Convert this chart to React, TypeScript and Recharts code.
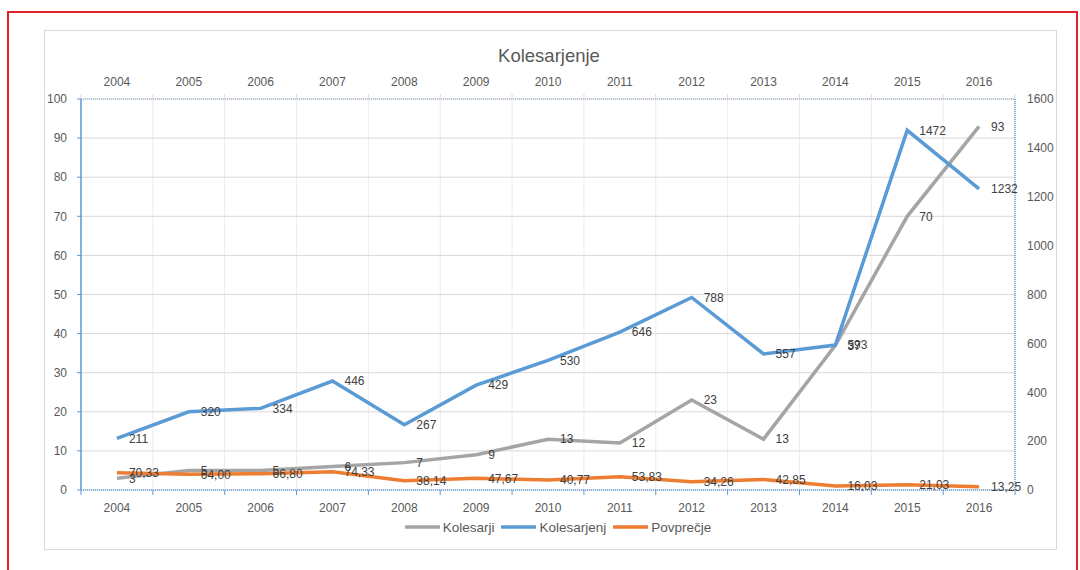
import React from "react";
import { LineChart, Line, XAxis, YAxis, CartesianGrid, LabelList } from "recharts";

const years = [2004, 2005, 2006, 2007, 2008, 2009, 2010, 2011, 2012, 2013, 2014, 2015, 2016];
const kolesarji = [3, 5, 5, 6, 7, 9, 13, 12, 23, 13, 37, 70, 93];
const kolesarjenj = [211, 320, 334, 446, 267, 429, 530, 646, 788, 557, 593, 1472, 1232];
const povprecje = [70.33, 64.0, 66.8, 74.33, 38.14, 47.67, 40.77, 53.83, 34.26, 42.85, 16.03, 21.03, 13.25];
const leftTicks = [0, 10, 20, 30, 40, 50, 60, 70, 80, 90, 100];
const rightTicks = [0, 200, 400, 600, 800, 1000, 1200, 1400, 1600];

const boundaryTicks = [...years.map((y) => y - 0.5), years[years.length - 1] + 0.5];
const gridTicks = [...boundaryTicks, ...years].sort((a, b) => a - b);
const xDomain: [number, number] = [boundaryTicks[0], boundaryTicks[boundaryTicks.length - 1]];

const data = years.map((year, i) => ({
  year,
  kolesarji: kolesarji[i],
  kolesarjenj: kolesarjenj[i],
  povprecje: povprecje[i],
}));

const FONT = "'Liberation Sans', Arial, sans-serif";
const GREY = "#a5a5a5";
const BLUE = "#5b9bd5";
const ORANGE = "#ed7d31";
const TICK_COLOR = "#595959";
const LABEL_COLOR = "#404040";

const legendItems = [
  { name: "Kolesarji", color: GREY },
  { name: "Kolesarjenj", color: BLUE },
  { name: "Povprečje", color: ORANGE },
];

const tickStyle = { fill: TICK_COLOR, fontSize: 12, fontFamily: FONT };
const labelStyle = { fill: LABEL_COLOR, fontSize: 12, fontFamily: FONT };

const fmtComma = (v: any) => Number(v).toFixed(2).replace(".", ",");
const EmptyTick = () => <g />;

export default function App() {
  return (
    <div style={{ position: "absolute", left: 0, top: 0, width: 1080, height: 570, background: "#fff", overflow: "hidden", fontFamily: FONT }}>
      <div style={{ position: "absolute", left: 7, top: 11, width: 1067, height: 580, border: "2px solid #e0232b" }} />
      <div style={{ position: "absolute", left: 44, top: 30, width: 1011, height: 518, border: "1px solid #d9d9d9" }} />
      <div style={{ position: "absolute", left: 0, top: 45, width: 1098, textAlign: "center", fontSize: 18.5, color: TICK_COLOR }}>
        Kolesarjenje
      </div>
      <div style={{ position: "absolute", left: 0, top: 0 }}>
        <LineChart width={1080} height={570} data={data} margin={{ top: 66, right: 30, bottom: 47, left: 40 }}>
          <XAxis xAxisId="grid" dataKey="year" type="number" domain={xDomain} ticks={gridTicks} hide allowDataOverflow />
          <CartesianGrid xAxisId="grid" yAxisId="l" horizontal={false} vertical stroke="#ececec" strokeWidth={1} />
          <CartesianGrid xAxisId="grid" yAxisId="l" horizontal vertical={false} stroke="#d9d9d9" strokeWidth={1} />
          <XAxis
            xAxisId="b"
            dataKey="year"
            type="number"
            domain={xDomain}
            ticks={boundaryTicks}
            height={13}
            orientation="bottom"
            axisLine={{ stroke: BLUE, strokeDasharray: "1 1", strokeWidth: 1.5 }}
            tickLine={{ stroke: BLUE, strokeWidth: 1 }}
            tickSize={5}
            tick={EmptyTick}
            allowDataOverflow
          />
          <XAxis
            xAxisId="bl"
            dataKey="year"
            type="number"
            domain={xDomain}
            ticks={years}
            height={20}
            orientation="bottom"
            axisLine={false}
            tickLine={false}
            tickSize={0}
            tickMargin={0}
            tick={tickStyle}
            allowDataOverflow
          />
          <XAxis
            xAxisId="t"
            dataKey="year"
            type="number"
            domain={xDomain}
            ticks={boundaryTicks}
            height={13}
            orientation="top"
            axisLine={{ stroke: "#a9bcd0", strokeDasharray: "1 1", strokeWidth: 1.5 }}
            tickLine={{ stroke: "#d9d9d9", strokeWidth: 1 }}
            tickSize={5}
            tick={EmptyTick}
            allowDataOverflow
          />
          <XAxis
            xAxisId="tl"
            dataKey="year"
            type="number"
            domain={xDomain}
            ticks={years}
            height={20}
            orientation="top"
            axisLine={false}
            tickLine={false}
            tickSize={0}
            tickMargin={0}
            tick={tickStyle}
            allowDataOverflow
          />
          <YAxis
            yAxisId="l"
            orientation="left"
            width={41}
            domain={[0, 100]}
            ticks={leftTicks}
            axisLine={{ stroke: BLUE, strokeWidth: 1.5 }}
            tickLine={{ stroke: BLUE, strokeWidth: 1 }}
            tickSize={4}
            tickMargin={10}
            tick={tickStyle}
            interval={0}
          />
          <YAxis
            yAxisId="r"
            orientation="right"
            width={35}
            domain={[0, 1600]}
            ticks={rightTicks}
            axisLine={{ stroke: BLUE, strokeDasharray: "1 1", strokeWidth: 1.5 }}
            tickLine={false}
            tickSize={0}
            tickMargin={12}
            tick={tickStyle}
            interval={0}
          />
          <Line xAxisId="b" yAxisId="l" type="linear" dataKey="kolesarji" name="Kolesarji" stroke={GREY} strokeWidth={3.5} dot={false} isAnimationActive={false}>
            <LabelList dataKey="kolesarji" position="right" offset={12} style={labelStyle} />
          </Line>
          <Line xAxisId="b" yAxisId="r" type="linear" dataKey="kolesarjenj" name="Kolesarjenj" stroke={BLUE} strokeWidth={3.5} dot={false} isAnimationActive={false}>
            <LabelList dataKey="kolesarjenj" position="right" offset={12} style={labelStyle} />
          </Line>
          <Line xAxisId="b" yAxisId="r" type="linear" dataKey="povprecje" name="Povprečje" stroke={ORANGE} strokeWidth={3.5} dot={false} isAnimationActive={false}>
            <LabelList dataKey="povprecje" position="right" offset={12} style={labelStyle} formatter={fmtComma} />
          </Line>
        </LineChart>
      </div>
      <div style={{ position: "absolute", left: 0, top: 519, width: 1116, display: "flex", justifyContent: "center", fontSize: 13.5, color: TICK_COLOR }}>
        {legendItems.map((it) => (
          <div key={it.name} style={{ display: "flex", alignItems: "center", margin: "0 3.5px" }}>
            <svg width={35} height={16}>
              <line x1={0} y1={8} x2={35} y2={8} stroke={it.color} strokeWidth={3.5} />
            </svg>
            <span style={{ marginLeft: 3 }}>{it.name}</span>
          </div>
        ))}
      </div>
    </div>
  );
}
